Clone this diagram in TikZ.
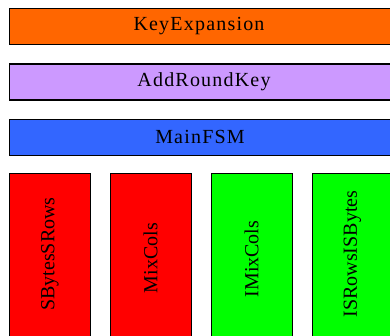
\documentclass[tikz,border=0pt]{standalone}
\usepackage{fontspec}
\setmainfont{Liberation Serif}
\newfontfamily\spaced[LetterSpace=6]{Liberation Serif}
\definecolor{kexp}{HTML}{FF6600}
\definecolor{ark}{HTML}{CC99FF}
\definecolor{fsm}{HTML}{3366FF}
\definecolor{redb}{HTML}{FF0000}
\definecolor{greenb}{HTML}{00FF00}
\tikzset{
  wide/.style={draw=black, line width=1.3pt, anchor=north west, inner sep=0pt,
    minimum width=390pt, minimum height=36pt},
  hlabel/.style={inner sep=0pt, font=\fontsize{20}{20}\selectfont\spaced},
  tall/.style={draw=black, line width=1.3pt, anchor=north west, inner sep=0pt,
    minimum width=81pt, minimum height=190pt},
  vlabel/.style={rotate=90, inner sep=0pt, font=\fontsize{20}{20}\selectfont}
}
\begin{document}
\begin{tikzpicture}[x=1pt,y=-1pt]
\useasboundingbox (0,0) rectangle (390,336);
\clip (0,0) rectangle (390,336);
\node[wide, fill=kexp] (ke) at (9,8) {};
\node[wide, fill=ark] (ar) at (9,63.5) {};
\node[wide, fill=fsm] (fs) at (9,119) {};
\node[hlabel] at (199,26) (tke) {KeyExpansion};
\node[hlabel] at (204,82) (tar) {AddRoundKey};
\node[hlabel] at (200,137) (tfs) {MainFSM};
\node[tall, fill=redb] (sb) at (9,173) {};
\node[tall, fill=redb] (mc) at (110,173) {};
\node[tall, fill=greenb] (im) at (211,173) {};
\node[tall, fill=greenb] (is) at (312,173) {};
\node[vlabel] (tsb) at (50,254) {SBytesSRows};
\node[vlabel] (tmc) at (150.5,258) {MixCols};
\node[vlabel] (tim) at (251.5,259) {IMixCols};
\node[vlabel] (tis) at (352.5,254) {ISRowsISBytes};
\end{tikzpicture}
\end{document}
